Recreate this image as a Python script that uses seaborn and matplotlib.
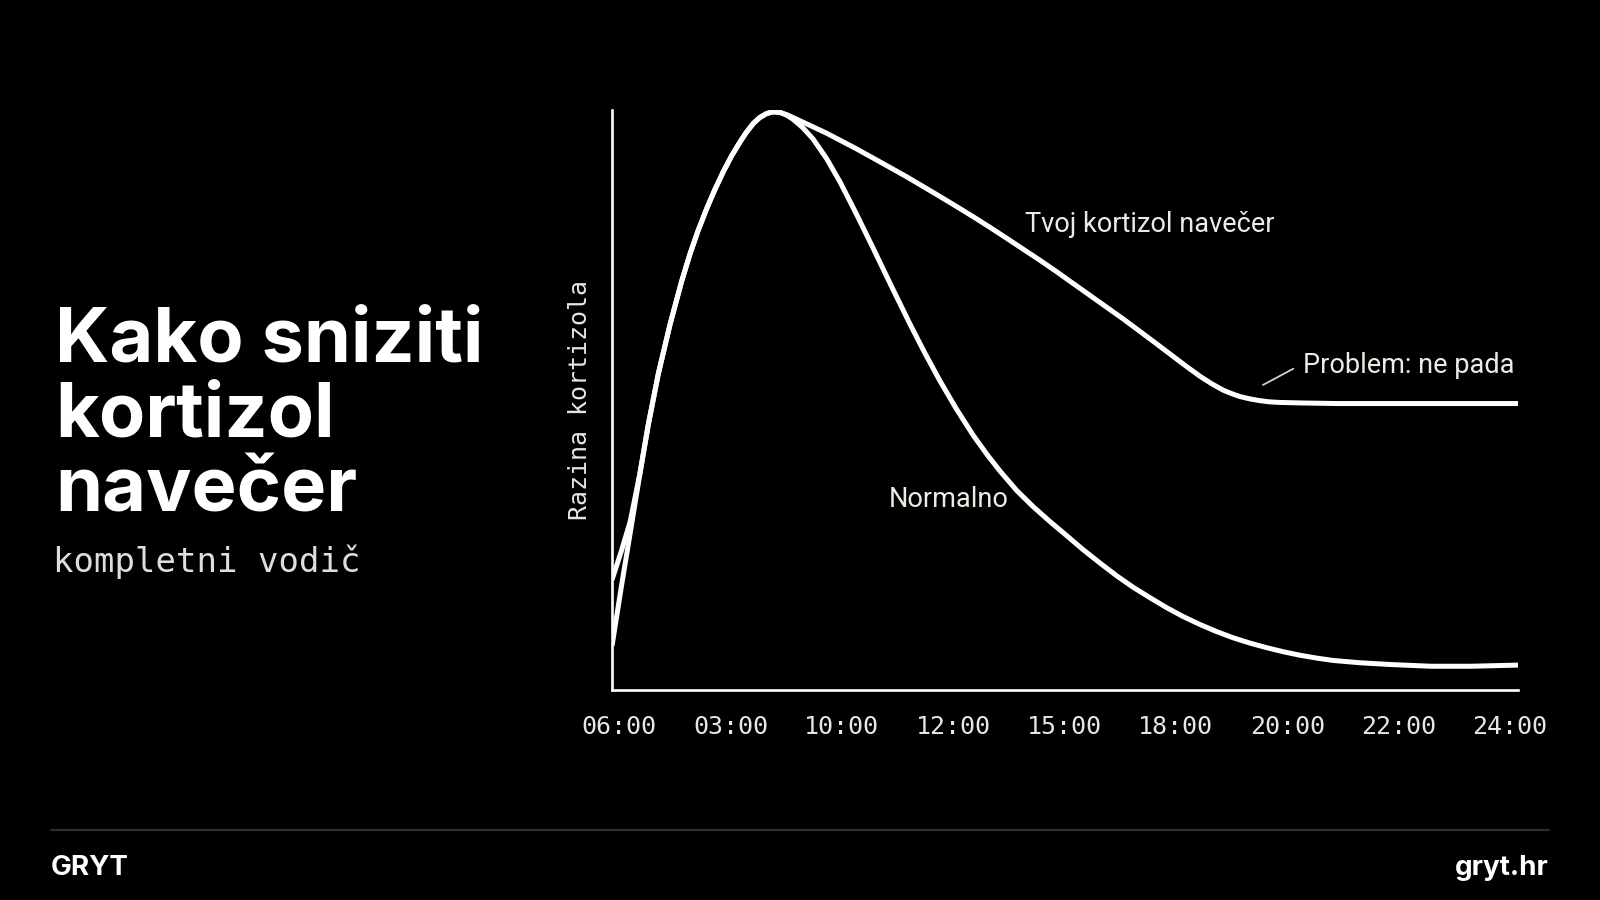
import numpy as np
import pandas as pd
import matplotlib.pyplot as plt
import seaborn as sns

# tick labels as written on the chart
time_labels = ["06:00", "03:00", "10:00", "12:00", "15:00", "18:00", "20:00", "22:00", "24:00"]

# curve readings: x = fraction of the time axis, y = relative cortisol level
normal_x = [0.0, 0.010, 0.020, 0.0309, 0.0401, 0.0511, 0.064, 0.0769, 0.0861, 0.095, 0.1045,
            0.113, 0.1229, 0.132, 0.1413, 0.148, 0.156, 0.163, 0.1707, 0.178, 0.1854, 0.193,
            0.200, 0.211, 0.222, 0.237, 0.2517, 0.270, 0.2885, 0.3085, 0.3289, 0.345, 0.362,
            0.380, 0.3988, 0.414, 0.428, 0.4467, 0.465, 0.483, 0.502, 0.520, 0.5386, 0.557,
            0.5754, 0.594, 0.6122, 0.630, 0.649, 0.667, 0.6857, 0.704, 0.7226, 0.741, 0.7594,
            0.778, 0.796, 0.8256, 0.859, 0.904, 0.948, 0.974, 1.0]
normal_y = [0.076, 0.175, 0.27, 0.374, 0.458, 0.545, 0.630, 0.705, 0.752, 0.792, 0.830,
            0.861, 0.894, 0.921, 0.945, 0.961, 0.977, 0.987, 0.994, 0.997, 0.996, 0.991,
            0.984, 0.969, 0.950, 0.916, 0.876, 0.820, 0.761, 0.696, 0.631, 0.582, 0.533,
            0.485, 0.439, 0.406, 0.378, 0.344, 0.316, 0.291, 0.266, 0.242, 0.219, 0.197,
            0.177, 0.159, 0.142, 0.127, 0.113, 0.101, 0.090, 0.081, 0.073, 0.066, 0.060,
            0.055, 0.051, 0.047, 0.044, 0.041, 0.041, 0.042, 0.043]

evening_x = [0.0, 0.010, 0.020, 0.0309, 0.0401, 0.0511, 0.064, 0.0769, 0.0861, 0.095, 0.1045,
             0.113, 0.1229, 0.132, 0.1413, 0.148, 0.156, 0.163, 0.1707, 0.178, 0.1854, 0.193,
             0.200, 0.211, 0.222, 0.237, 0.2517, 0.270, 0.2885, 0.3069, 0.3252, 0.3436, 0.362,
             0.380, 0.3988, 0.417, 0.4356, 0.454, 0.4724, 0.491, 0.509, 0.528, 0.546, 0.565,
             0.583, 0.601, 0.6196, 0.634, 0.649, 0.662, 0.6747, 0.684, 0.6932, 0.704, 0.715,
             0.725, 0.735, 0.76, 0.80, 0.90, 1.0]
evening_y = [0.19, 0.238, 0.29, 0.374, 0.458, 0.545, 0.630, 0.705, 0.752, 0.792, 0.830,
             0.861, 0.894, 0.921, 0.945, 0.961, 0.977, 0.987, 0.994, 0.997, 0.996, 0.992,
             0.987, 0.979, 0.971, 0.960, 0.948, 0.933, 0.917, 0.901, 0.885, 0.868, 0.851,
             0.834, 0.816, 0.798, 0.779, 0.760, 0.741, 0.721, 0.701, 0.680, 0.660, 0.639,
             0.618, 0.597, 0.575, 0.558, 0.541, 0.528, 0.517, 0.511, 0.506, 0.502, 0.499,
             0.497, 0.496, 0.495, 0.494, 0.494, 0.494]

tick_pos = np.linspace(0.008, 0.991, len(time_labels))

df = pd.concat([
    pd.DataFrame({"t": normal_x, "level": normal_y, "series": "Normalno"}),
    pd.DataFrame({"t": evening_x, "level": evening_y, "series": "Tvoj kortizol navečer"}),
])

sns.set_style("dark")
plt.rcParams["font.family"] = ["Inter", "DejaVu Sans"]
plt.rcParams["axes.facecolor"] = "black"
plt.rcParams["figure.facecolor"] = "black"

fig = plt.figure(figsize=(16, 9), dpi=100)
ax = fig.add_axes([0.3825, 0.2333, 0.56625, 0.6444])

sns.lineplot(data=df, x="t", y="level", hue="series", palette=["white", "white"],
             linewidth=3.6, legend=False, sort=False, ax=ax)
for ln in ax.lines:
    ln.set_solid_capstyle("butt")
    ln.set_solid_joinstyle("round")

ax.set_xlim(0, 1)
ax.set_ylim(0, 1)
ax.grid(False)
for side in ["top", "right"]:
    ax.spines[side].set_visible(False)
for side in ["left", "bottom"]:
    ax.spines[side].set_visible(True)
    ax.spines[side].set_color("white")
    ax.spines[side].set_linewidth(1.9)
ax.set_xticks(tick_pos)
ax.set_xticklabels(time_labels, family="DejaVu Sans Mono", fontsize=18, color="#e6e6e6")
ax.set_yticks([])
ax.tick_params(axis="x", length=0, pad=18)
ax.set_xlabel("")
ax.set_ylabel("")
ax.text(-0.035, 0.5, "Razina kortizola", transform=ax.transAxes, rotation=90,
        ha="center", va="center", family="DejaVu Sans Mono", fontsize=18, color="#e6e6e6")

# curve labels
note = dict(fontsize=19.5, color="#ecebe4", va="center", ha="left", family=["Roboto", "DejaVu Sans"])
ax.text(0.456, 0.803, "Tvoj kortizol navečer", **note)
ax.text(0.305, 0.328, "Normalno", **note)
ax.text(0.763, 0.559, "Problem: ne pada", **note)
ax.annotate("", xy=(0.7185, 0.526), xytext=(0.752, 0.554),
            arrowprops=dict(arrowstyle="-", color="#cfcfcf", lw=1.3, shrinkA=0, shrinkB=0))

# left title block
title_lines = ["Kako sniziti", "kortizol", "navečer"]
for i, line in enumerate(title_lines):
    fig.text(55 / 1600, 1 - (362 + 75 * i) / 900, line, fontsize=54.5, fontweight="bold",
             color="white", ha="left", va="baseline")
fig.text(53 / 1600, 1 - 572 / 900, "kompletni vodič", family="DejaVu Sans Mono",
         fontsize=24.5, color="#dedede", ha="left", va="baseline")

# footer
fig.add_artist(plt.Line2D([51 / 1600, 1549 / 1600], [1 - 830 / 900, 1 - 830 / 900],
                          color="#2e2e2e", lw=1.6))
fig.text(51 / 1600, 1 - 868 / 900, "GRYT", fontsize=20, fontweight="bold",
         color="white", ha="left", va="center")
fig.text(1549 / 1600, 1 - 868 / 900, "gryt.hr", fontsize=20, fontweight="bold",
         color="white", ha="right", va="center")

fig.savefig("out.png", dpi=100, facecolor="black")
